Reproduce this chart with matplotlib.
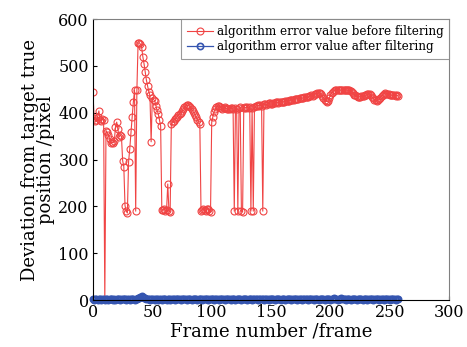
import numpy as np
import matplotlib
matplotlib.use("Agg")
import matplotlib.pyplot as plt

plt.rcParams['font.family'] = ['DejaVu Serif']
plt.rcParams['mathtext.fontset'] = 'dejavuserif'

# red: error before filtering (one value per frame)
before = [445, 388, 382, 385, 392, 404, 385, 382, 386, 384,
          0, 362, 358, 352, 345, 335, 338, 336, 340, 370,
          380, 365, 348, 352, 350, 298, 285, 202, 190, 186,
          295, 323, 358, 390, 422, 448, 190, 448, 548, 550,
          546, 540, 520, 505, 488, 470, 458, 445, 437, 338,
          432, 428, 426, 415, 405, 398, 385, 372, 193, 192,
          195, 190, 192, 248, 190, 188, 375, 380, 383, 386,
          388, 392, 396, 398, 400, 404, 408, 412, 415, 416,
          416, 415, 412, 408, 404, 400, 395, 390, 385, 380,
          375, 190, 193, 195, 192, 190, 195, 194, 190, 188,
          380, 392, 402, 408, 412, 415, 415, 413, 410, 408,
          410, 412, 410, 408, 407, 408, 410, 410, 408, 190,
          410, 408, 190, 410, 412, 190, 188, 410, 412, 410,
          412, 410, 412, 190, 410, 190, 412, 414, 415, 416,
          415, 416, 415, 190, 418, 418, 417, 419, 420, 420,
          418, 419, 420, 421, 422, 422, 421, 423, 424, 424,
          423, 424, 425, 426, 425, 426, 427, 428, 427, 428,
          429, 430, 430, 429, 431, 432, 431, 432, 433, 433,
          434, 433, 435, 436, 437, 436, 438, 440, 441, 442,
          443, 442, 440, 436, 432, 428, 425, 424, 426, 432,
          438, 442, 445, 447, 448, 449, 448, 449, 448, 449,
          448, 449, 448, 449, 448, 448, 448, 447, 445, 442,
          439, 437, 435, 434, 434, 434, 435, 436, 436, 437,
          438, 440, 441, 440, 437, 434, 431, 428, 427, 426,
          427, 429, 432, 436, 439, 441, 442, 441, 440, 440,
          439, 438, 437, 438, 437, 436, 437, 436]

# blue: error after filtering
after = [2, 1, 3, 2, 1, 2, 3, 1, 2, 2,
         1, 3, 2, 1, 2, 2, 3, 1, 2, 1,
         2, 3, 2, 1, 2, 3, 2, 2, 1, 3,
         2, 1, 2, 3, 2, 1, 2, 3, 4, 5,
         6, 8, 7, 5, 4, 3, 2, 2, 1, 2,
         3, 2, 1, 2, 2, 1, 3, 2, 1, 2,
         2, 3, 1, 2, 2, 1, 2, 3, 2, 1,
         2, 2, 3, 2, 1, 2, 3, 2, 2, 1,
         2, 3, 2, 1, 2, 2, 3, 2, 1, 2,
         3, 2, 1, 2, 2, 3, 2, 1, 2, 3,
         2, 2, 1, 2, 3, 2, 1, 2, 2, 3,
         2, 1, 2, 3, 2, 2, 1, 2, 3, 2,
         1, 2, 2, 3, 2, 1, 2, 3, 2, 2,
         1, 2, 3, 2, 1, 2, 2, 3, 2, 1,
         2, 3, 2, 2, 1, 2, 3, 2, 1, 2,
         2, 3, 2, 1, 2, 3, 2, 2, 1, 2,
         3, 2, 1, 2, 2, 3, 2, 1, 2, 3,
         2, 2, 1, 2, 3, 2, 1, 2, 2, 3,
         2, 1, 2, 3, 2, 2, 1, 2, 3, 2,
         1, 2, 2, 3, 2, 1, 2, 3, 2, 2,
         1, 2, 3, 4, 3, 2, 1, 2, 3, 4,
         3, 2, 2, 1, 2, 3, 2, 1, 2, 2,
         3, 2, 1, 2, 3, 2, 2, 1, 2, 3,
         2, 1, 2, 2, 3, 2, 1, 2, 3, 2,
         2, 1, 2, 3, 2, 1, 2, 2, 3, 2,
         1, 2, 3, 2, 2, 1, 2, 3]

frames = np.arange(len(before))

fig = plt.figure(figsize=(4.67, 3.47), dpi=100)
ax = fig.add_axes([0.199, 0.135, 0.763, 0.81])

ax.plot(frames, before, color='#f04444', lw=0.8, marker='o', ms=5,
        mfc='none', mew=0.8, label='algorithm error value before filtering')
ax.plot(frames[:len(after)], after, color='#3555b0', lw=0.9, marker='o', ms=4.5,
        mfc='none', mew=1.2, clip_on=False,
        label='algorithm error value after filtering')

ax.set_xlim(0, 300)
ax.set_ylim(0, 600)
ax.set_xticks([0, 50, 100, 150, 200, 250, 300])
ax.set_yticks([0, 100, 200, 300, 400, 500, 600])
ax.tick_params(direction='in', length=3, labelsize=11.5, pad=3)
for s in ['top', 'right']:
    ax.spines[s].set_color('#808080')
for s in ['left', 'bottom']:
    ax.spines[s].set_color('black')

ax.set_xlabel('Frame number /frame', fontsize=13, labelpad=1)
ax.set_ylabel('Deviation from target true\nposition /pixel', fontsize=13,
              labelpad=2, linespacing=0.9)

leg = ax.legend(loc='upper right', fontsize=8.6, frameon=True, fancybox=False,
                edgecolor='#808080', borderaxespad=0, handlelength=2.2,
                handletextpad=0.3, labelspacing=0.15, borderpad=0.5)
leg.get_frame().set_linewidth(0.8)

fig.savefig('out.png', dpi=100)
